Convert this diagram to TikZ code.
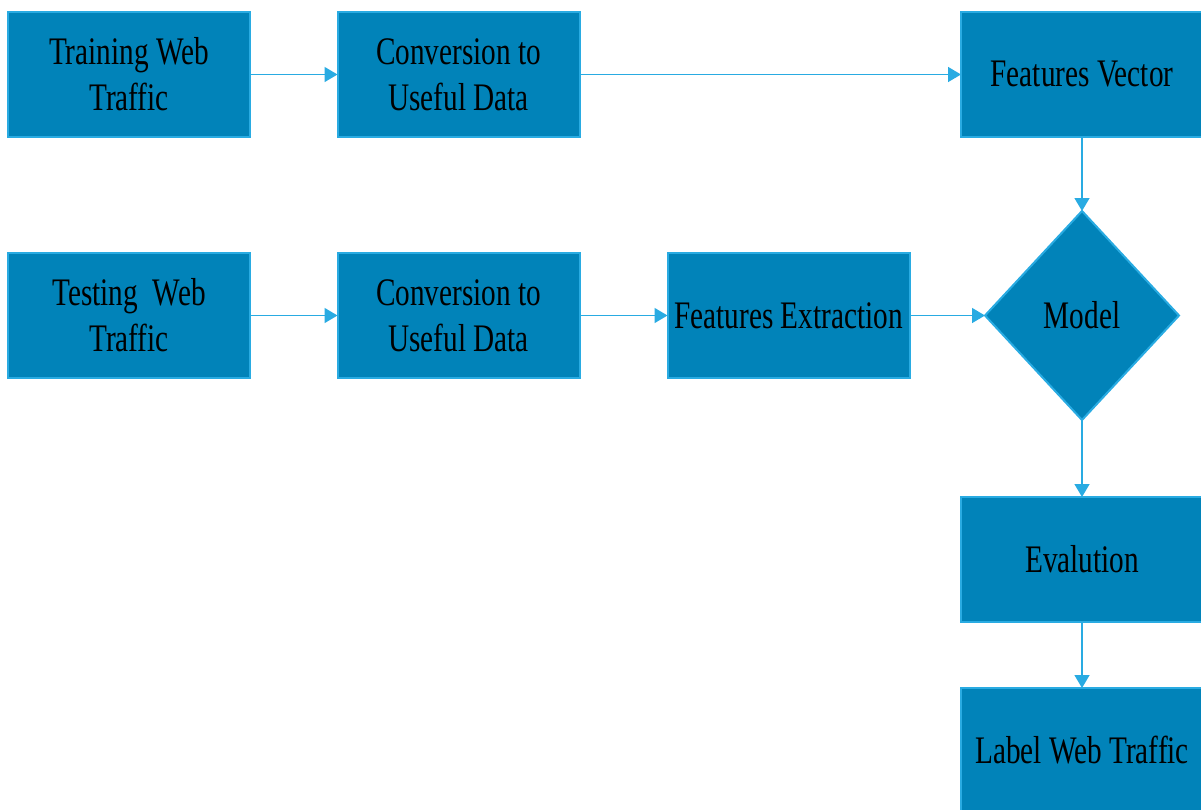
\documentclass[tikz,border=0pt]{standalone}
\usepackage{fontspec}
\setmainfont{Liberation Serif}[FakeStretch=0.75]
\usetikzlibrary{shapes.geometric,arrows.meta}
\definecolor{boxfill}{RGB}{1,131,185}
\definecolor{edgeblue}{RGB}{41,171,226}
\tikzset{
  stage/.style={draw=edgeblue, line width=2pt, fill=boxfill, minimum width=242pt,
    minimum height=125pt, inner sep=0pt, outer sep=0pt, align=center,
    font=\fontsize{39}{46}\selectfont, text=black},
  decide/.style={diamond, draw=edgeblue, line width=2pt, fill=boxfill,
    minimum width=194pt, minimum height=209pt, aspect=0.93, inner sep=0pt,
    outer sep=0pt, font=\fontsize{39}{46}\selectfont, text=black},
  flow/.style={draw=edgeblue, line width=1.5pt,
    -{Triangle[length=13pt,width=15pt]}}
}
\begin{document}
\begin{tikzpicture}[x=1pt,y=-1pt]
\useasboundingbox (0,0) rectangle (1201,809);
\clip (0,0) rectangle (1201,809);
% training branch
\node[stage] (train) at (129,74.5) {Training Web\\Traffic};
\node[stage] (conv1) at (458.5,74.5) {Conversion to\\Useful Data};
\node[stage] (fvec) at (1082,74.5) {Features Vector};
% testing branch
\node[stage] (test) at (129,315.5) {Testing\ \ Web\\Traffic};
\node[stage] (conv2) at (458.5,315.5) {Conversion to\\Useful Data};
\node[stage] (fext) at (788.5,315.5) {Features Extraction};
\node[decide] (model) at (1082,315.5) {Model};
% output
\node[stage] (eval) at (1082,559.5) {Evalution};
\node[stage] (label) at (1082,750.5) {Label Web Traffic};
% connectors
\draw[flow] (train) -- (conv1);
\draw[flow] (conv1) -- (fvec);
\draw[flow] (fvec) -- (model);
\draw[flow] (test) -- (conv2);
\draw[flow] (conv2) -- (fext);
\draw[flow] (fext) -- (model);
\draw[flow] (model) -- (eval);
\draw[flow] (eval) -- (label);
\end{tikzpicture}
\end{document}
